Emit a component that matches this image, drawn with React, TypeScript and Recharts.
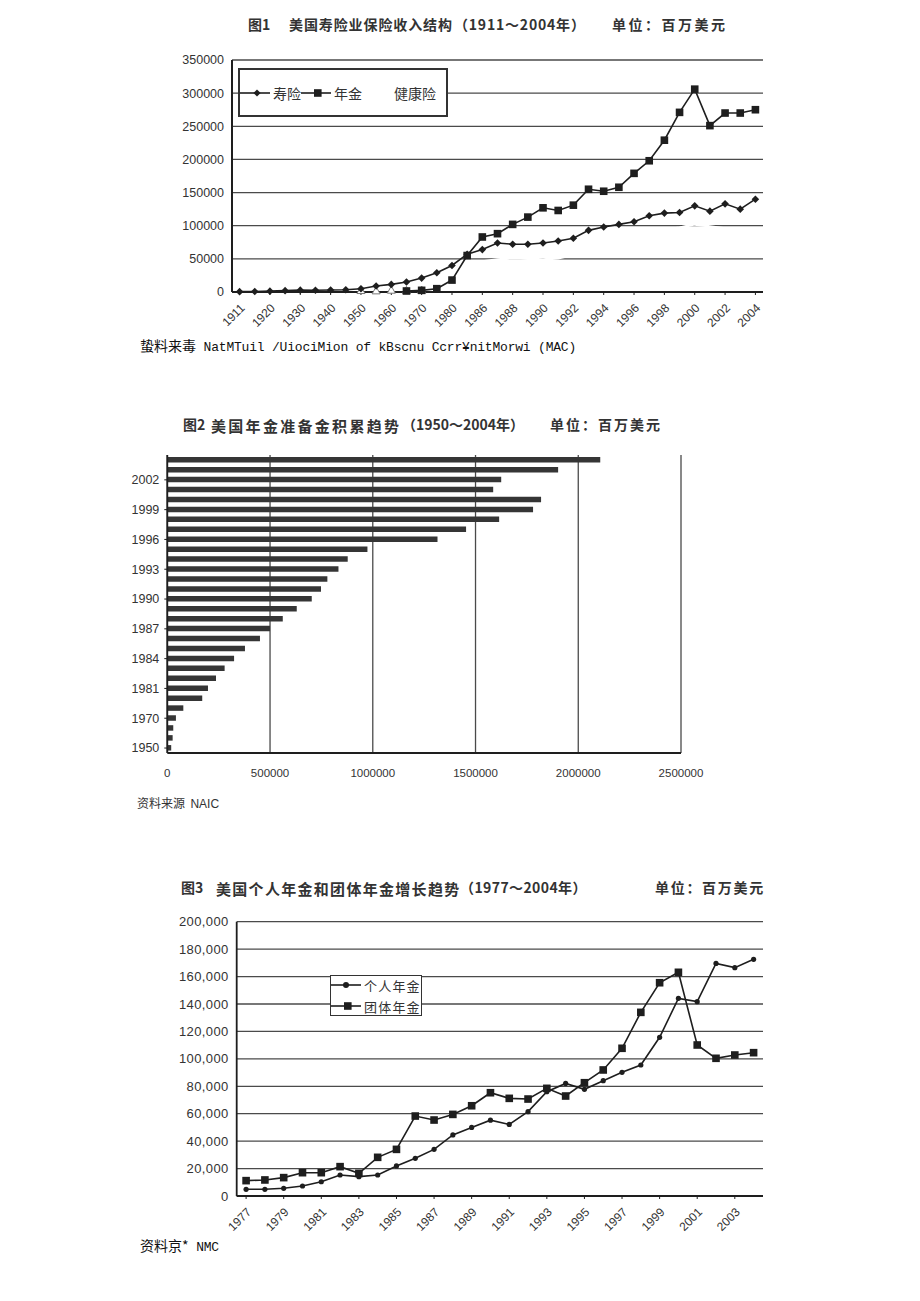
import React from 'react';
import { LineChart, Line, XAxis, YAxis, CartesianGrid, BarChart, Bar } from 'recharts';

// ---------- Figure 1 data ----------
const years1 = ['1911','1915','1920','1925','1930','1935','1940','1945','1950','1955','1960','1965','1970','1975','1980','1985','1986','1987','1988','1989','1990','1991','1992','1993','1994','1995','1996','1997','1998','1999','2000','2001','2002','2003','2004'];
const life1 = [500,700,1300,2000,2800,2600,3000,3500,5000,9000,11500,15000,21000,29000,40000,57000,64000,74000,72000,72000,74000,77000,81000,93000,98000,102000,106000,115000,119000,120000,130000,122000,133000,125000,140000];
const annuity1 = [null,null,null,null,null,null,null,null,null,null,null,1500,2500,5000,18000,55000,83000,88000,102000,113000,127000,123000,131000,155000,152000,158000,179000,198000,229000,271000,306000,251000,270000,270000,275000];
const health1 = [null,null,null,null,null,null,null,null,2500,2000,3000,2500,3000,8000,20000,42000,46000,49000,51000,50000,49000,51000,56000,62000,68000,74000,80000,88000,94000,97000,102000,99000,96000,95000,96000];
const yTicks1 = [0,50000,100000,150000,200000,250000,300000,350000];

// ---------- Figure 2 data ----------
const years2 = ['1950','1960','1965','1970','1975','1980','1981','1982','1983','1984','1985','1986','1987','1988','1989','1990','1991','1992','1993','1994','1995','1996','1997','1998','1999','2000','2001','2002','2003','2004'];
const reserves2 = [19000,26000,29000,42000,78000,170000,198000,237000,279000,325000,378000,451000,500000,562000,630000,703000,748000,779000,833000,878000,974000,1315000,1454000,1615000,1780000,1819000,1586000,1625000,1902000,2107000];
const xTicks2 = [0,500000,1000000,1500000,2000000,2500000];

// ---------- Figure 3 data ----------
const years3 = ['1977','1978','1979','1980','1981','1982','1983','1984','1985','1986','1987','1988','1989','1990','1991','1992','1993','1994','1995','1996','1997','1998','1999','2000','2001','2002','2003','2004'];
const individual3 = [4900,4900,5600,7300,10400,15300,14100,15300,21900,27500,34000,44500,50000,55300,52200,61500,76000,82100,77800,84100,90200,95500,115700,144100,141700,169600,166500,172600];
const group3 = [11200,11700,13400,17000,17000,21400,16500,28200,34000,58300,55400,59500,65800,75300,71200,70700,78500,72900,82600,91900,107700,133900,155500,163100,110100,100400,102800,104500];
const yTicks3 = [0,20000,40000,60000,80000,100000,120000,140000,160000,180000,200000];

const data1 = years1.map((y, i) => ({ year: y, life: life1[i], annuity: annuity1[i], health: health1[i] }));
const data2 = years2.map((y, i) => ({ year: y, reserve: reserves2[i] }));
const data3 = years3.map((y, i) => ({ year: y, individual: individual3[i], group: group3[i] }));

const INK = '#1e1e1e';
const GRID = '#4a4a4a';
const NUM_FONT = '"Liberation Sans", Arial, sans-serif';
const CJK_FONT = '"Noto Sans CJK SC", "Noto Sans", sans-serif';
const MONO_FONT = '"Liberation Mono", monospace';

const Diamond = (props: any) => {
  const { cx, cy, index } = props;
  if (cx == null || cy == null || props.value == null) return <g key={`dm${index}`} />;
  const s = 3.8;
  return <path key={`dm${index}`} d={`M${cx},${cy - s}L${cx + s},${cy}L${cx},${cy + s}L${cx - s},${cy}Z`} fill={INK} />;
};
const Square = (props: any) => {
  const { cx, cy, index } = props;
  if (cx == null || cy == null || props.value == null) return <g key={`sq${index}`} />;
  const s = 3.8;
  return <rect key={`sq${index}`} x={cx - s} y={cy - s} width={2 * s} height={2 * s} fill={INK} />;
};
const SmallDot = (props: any) => {
  const { cx, cy, index } = props;
  if (cx == null || cy == null || props.value == null) return <g key={`sd${index}`} />;
  return <circle key={`sd${index}`} cx={cx} cy={cy} r={2.6} fill={INK} />;
};
const Triangle = (props: any) => {
  const { cx, cy, index, value } = props;
  if (cx == null || cy == null || value == null || value > 5000) return <g key={`tr${index}`} />;
  const s = 4;
  return <path key={`tr${index}`} d={`M${cx},${cy - s}L${cx + s},${cy + s * 0.8}L${cx - s},${cy + s * 0.8}Z`} fill="#fff" stroke="#777" strokeWidth={1} />;
};

const RotTick = (props: any) => {
  const { x, y, payload } = props;
  return (
    <g transform={`translate(${x + 3},${y + 9}) rotate(-45)`}>
      <text x={0} y={0} dy={4} textAnchor="end" fontSize={12} fontFamily={NUM_FONT} fill="#333">{payload.value}</text>
    </g>
  );
};

const Title = ({ top, parts }: { top: number; parts: { left: number; text: string; size: number; ls?: number }[] }) => (
  <>
    {parts.map((p, i) => (
      <div key={i} style={{ position: 'absolute', left: p.left, top: top - p.size * 0.7, fontSize: p.size, letterSpacing: p.ls ?? 0, fontWeight: 700, color: '#333', fontFamily: CJK_FONT, whiteSpace: 'pre', lineHeight: 1.4 }}>{p.text}</div>
    ))}
  </>
);

const LegendRow = ({ marker, label, fontSize, ls }: { marker: 'diamond' | 'square' | 'dot' | 'none'; label: string; fontSize: number; ls?: number }) => (
  <span style={{ display: 'inline-flex', alignItems: 'center' }}>
    {marker !== 'none' && (
      <svg width={30} height={12} style={{ marginRight: 3 }}>
        <line x1={0} y1={6} x2={30} y2={6} stroke={INK} strokeWidth={1.6} />
        {marker === 'diamond' && <path d="M17,2.4L20.6,6L17,9.6L13.4,6Z" fill={INK} />}
        {marker === 'square' && <rect x={13} y={2.2} width={7.6} height={7.6} fill={INK} />}
        {marker === 'dot' && <circle cx={15} cy={6} r={3} fill={INK} />}
      </svg>
    )}
    <span style={{ fontSize, letterSpacing: ls ?? 0, color: '#333', fontFamily: CJK_FONT }}>{label}</span>
  </span>
);

export default function App() {
  return (
    <div style={{ position: 'relative', width: 920, height: 1290, margin: '-8px 0 0 -8px', background: '#fff', overflow: 'hidden' }}>
      {/* ---------------- Figure 1 ---------------- */}
      <Title top={25} parts={[
        { left: 248, text: '图1', size: 14 },
        { left: 289, text: '美国寿险业保险收入结构', size: 14, ls: 0.9 },
        { left: 454, text: '（1911～2004年）', size: 14, ls: 0.8 },
        { left: 612, text: '单位：百万美元', size: 14, ls: 2.5 },
      ]} />
      <div style={{ position: 'absolute', left: 150, top: 40 }}>
        <LineChart width={630} height={310} data={data1} margin={{ top: 20, right: 17, bottom: 8, left: 0 }}>
          <CartesianGrid vertical={false} stroke={GRID} strokeWidth={1.3} />
          <XAxis dataKey="year" scale="band" interval={1} height={50} tick={<RotTick />} tickSize={3} tickLine={{ stroke: INK }} axisLine={{ stroke: INK, strokeWidth: 2 }} />
          <YAxis domain={[0, 350000]} ticks={yTicks1} width={82} tickLine={false} axisLine={{ stroke: INK, strokeWidth: 2 }} tick={{ fontSize: 12.5, fill: '#333', fontFamily: NUM_FONT }} />
          <YAxis yAxisId="r" orientation="right" domain={[0, 350000]} width={0} tick={false} tickLine={false} axisLine={{ stroke: GRID, strokeWidth: 1.3 }} />
          <Line dataKey="health" stroke="#ffffff" strokeWidth={2.5} dot={<Triangle />} activeDot={false} isAnimationActive={false} />
          <Line dataKey="life" stroke={INK} strokeWidth={1.6} dot={<Diamond />} activeDot={false} isAnimationActive={false} />
          <Line dataKey="annuity" stroke={INK} strokeWidth={1.6} dot={<Square />} activeDot={false} isAnimationActive={false} />
        </LineChart>
      </div>
      <div style={{ position: 'absolute', left: 238, top: 68, width: 206, height: 45, border: '2px solid #333', background: '#fff', display: 'flex', alignItems: 'center', boxSizing: 'content-box' }}>
        <LegendRow marker="diamond" label="寿险" fontSize={14} />
        <LegendRow marker="square" label="年金" fontSize={14} />
        <span style={{ marginLeft: 32 }}><LegendRow marker="none" label="健康险" fontSize={14} /></span>
      </div>
      <div style={{ position: 'absolute', left: 140, top: 336, whiteSpace: 'pre', color: '#111', lineHeight: '18px' }}>
        <span style={{ fontFamily: CJK_FONT, fontSize: 14 }}>蛰料来毒</span>
        <span style={{ fontFamily: MONO_FONT, fontSize: 13, letterSpacing: -0.2 }}> NatMTuil /UiociMion of kBscnu Ccrr¥nitMorwi (MAC)</span>
      </div>

      {/* ---------------- Figure 2 ---------------- */}
      <Title top={425} parts={[
        { left: 183, text: '图2', size: 14 },
        { left: 211, text: '美国年金准备金积累趋势', size: 15, ls: 2.3 },
        { left: 402, text: '（1950～2004年）', size: 14, ls: 0 },
        { left: 550, text: '单位：百万美元', size: 14, ls: 2 },
      ]} />
      <div style={{ position: 'absolute', left: 120, top: 440 }}>
        <BarChart width={600} height={345} data={data2} layout="vertical" margin={{ top: 15, right: 39, bottom: 2, left: 0 }} barCategoryGap={0}>
          <CartesianGrid horizontal={false} stroke={GRID} strokeWidth={1.3} />
          <XAxis type="number" domain={[0, 2500000]} ticks={xTicks2} height={30} tickLine={false} axisLine={{ stroke: INK, strokeWidth: 1.8 }} tick={{ fontSize: 11.5, fill: '#333', fontFamily: NUM_FONT }} tickMargin={10} />
          <YAxis type="category" dataKey="year" reversed interval={2} width={47.3} tickSize={3} tickMargin={5} tickLine={{ stroke: INK }} axisLine={{ stroke: INK, strokeWidth: 1.8 }} tick={{ fontSize: 12.5, fill: '#333', fontFamily: NUM_FONT }} />
          <Bar dataKey="reserve" fill="#353535" barSize={5.5} isAnimationActive={false} />
        </BarChart>
      </div>
      <div style={{ position: 'absolute', left: 137, top: 795, whiteSpace: 'pre', color: '#333', fontSize: 12, fontFamily: CJK_FONT, lineHeight: '16px' }}>
        资料来源  <span style={{ fontFamily: NUM_FONT }}>NAIC</span>
      </div>

      {/* ---------------- Figure 3 ---------------- */}
      <Title top={888} parts={[
        { left: 181, text: '图3', size: 14 },
        { left: 216, text: '美国个人年金和团体年金增长趋势', size: 15, ls: 1.3 },
        { left: 460, text: '（1977～2004年）', size: 14, ls: 0.4 },
        { left: 655, text: '单位：百万美元', size: 14, ls: 1.7 },
      ]} />
      <div style={{ position: 'absolute', left: 150, top: 905 }}>
        <LineChart width={630} height={335} data={data3} margin={{ top: 16.7, right: 17, bottom: 2, left: 0 }}>
          <CartesianGrid vertical={false} stroke={GRID} strokeWidth={1.3} />
          <XAxis dataKey="year" scale="band" interval={1} height={42} tick={<RotTick />} tickSize={3} tickLine={{ stroke: INK }} axisLine={{ stroke: INK, strokeWidth: 2 }} />
          <YAxis domain={[0, 200000]} ticks={yTicks3} width={86.7} tickLine={false} axisLine={{ stroke: INK, strokeWidth: 1.8 }} tickFormatter={(v: number) => v.toLocaleString('en-US')} tick={{ fontSize: 13, fill: '#333', fontFamily: NUM_FONT, letterSpacing: 0.4 }} />
          <Line dataKey="individual" stroke={INK} strokeWidth={1.6} dot={<SmallDot />} activeDot={false} isAnimationActive={false} />
          <Line dataKey="group" stroke={INK} strokeWidth={1.6} dot={<Square />} activeDot={false} isAnimationActive={false} />
        </LineChart>
      </div>
      <div style={{ position: 'absolute', left: 330, top: 975, width: 90, height: 39, border: '1.5px solid #333', background: '#fff', display: 'flex', flexDirection: 'column', justifyContent: 'center', gap: 2 }}>
        <LegendRow marker="dot" label="个人年金" fontSize={13} ls={1.2} />
        <LegendRow marker="square" label="团体年金" fontSize={13} ls={1.2} />
      </div>
      <div style={{ position: 'absolute', left: 140, top: 1236, whiteSpace: 'pre', color: '#111', lineHeight: '18px' }}>
        <span style={{ fontFamily: CJK_FONT, fontSize: 14 }}>资料京*</span>
        <span style={{ fontFamily: MONO_FONT, fontSize: 13, letterSpacing: -0.2 }}> NMC</span>
      </div>
    </div>
  );
}
